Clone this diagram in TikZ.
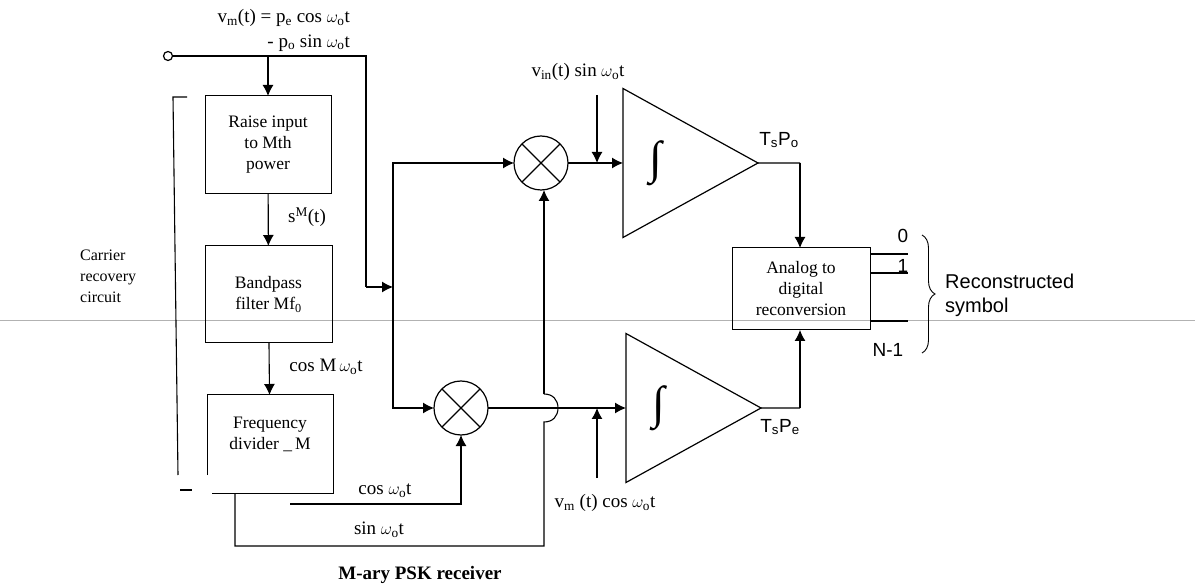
\documentclass[tikz,border=0pt]{standalone}
\usepackage{amsmath}
\usepackage{fontspec}
\setmainfont{Liberation Serif}
\setsansfont{Liberation Sans}
\usetikzlibrary{arrows.meta,positioning,shapes.geometric,calc,decorations.pathreplacing}
\tikzset{
    blockbox/.style={rectangle,draw=black,line width=1pt,inner sep=0pt,outer sep=0pt,align=center},
    mixer/.style={circle,draw=black,line width=1.2pt,minimum size=54pt,inner sep=0pt,outer sep=0pt},
    integrator/.style={isosceles triangle,isosceles triangle stretches,draw=black,line width=1.2pt,minimum width=149pt,minimum height=135pt,inner sep=0pt,outer sep=0pt,anchor=west,font=\fontsize{46}{48}\selectfont},
    sigtext/.style={font=\fontsize{19}{25}\selectfont,inner sep=0pt,align=center},
    sanstext/.style={font=\sffamily\fontsize{19}{24}\selectfont,inner sep=0pt,align=left},
    wire/.style={line width=1.1pt},
    arrow/.style={-{Latex[length=11pt,width=11pt]},line width=1.1pt}
}
\begin{document}
\begin{tikzpicture}[x=1pt,y=-1pt,font=\fontsize{17.5}{21}\selectfont]
  \useasboundingbox (0,0) rectangle (1195,585);
  % Scan line across the page
  \coordinate (scanl) at (0,320);
  \coordinate (scanr) at (1195,320);
  \draw[gray!60,line width=0.8pt] (scanl) -- (scanr);

  % Carrier recovery blocks
  \node[blockbox,minimum width=126pt,minimum height=98pt] at (268,145) (raise) {Raise input\\to Mth\\power};
  \node[blockbox,minimum width=127pt,minimum height=97pt] at (268.5,294.5) (bandpass) {Bandpass\\filter Mf\textsubscript{0}};
  \node[blockbox,draw=none,minimum width=126pt,minimum height=98pt] at (270,444) (divider) {Frequency\\divider \_\,M\\\mbox{}};

  % Mixers, integrators and converter
  \node[mixer] at (541,163) (mixup) {};
  \node[mixer] at (461,408) (mixlow) {};
  \node[integrator] at (623,163) (intup) {∫};
  \node[integrator] at (626,408) (intlow) {∫};
  \node[blockbox,minimum width=138pt,minimum height=82pt] at (801,289) (adc) {Analog to\\digital\\reconversion};
  \foreach \m in {mixup,mixlow} {
    \draw[line width=1.1pt] (\m.45) -- (\m.225);
    \draw[line width=1.1pt] (\m.135) -- (\m.315);
  }

  % Free ends and corners
  \node[circle,draw=black,line width=1.2pt,minimum size=9pt,inner sep=0pt] at (168,56) (input) {};
  \coordinate (bend) at (366,287);
  \coordinate (fork) at (393,287);
  \coordinate (cosstart) at (290,504);
  \coordinate (sinstart) at (235,494);
  \coordinate (sincorner) at (235,546);
  \coordinate (jumplow) at (544,422);
  \coordinate (jumptop) at (544,394);
  \coordinate (outup) at (800,163);
  \coordinate (outlow) at (800,408);
  \coordinate (sinin) at (597,95);
  \coordinate (cosin) at (597,478);
  \coordinate (out0) at (908,254);
  \coordinate (out1) at (908,273);
  \coordinate (outn) at (908,321);
  \coordinate (brtop) at (922,235);
  \coordinate (brlow) at (922,353);
  \coordinate (brkstart) at (187,97);
  \coordinate (brkcorner) at (173,97);
  \coordinate (brkend) at (178,475);
  \coordinate (dashl) at (180,490);
  \coordinate (dashr) at (192,490);

  % Divider outline, open at its lower left corner
  \draw[line width=1pt] ($(divider.south west)+(0,-18)$) -- (divider.north west) -- (divider.north east) -- (divider.south east) -- ($(divider.south west)+(5,0)$);
  % Broken carrier recovery bracket
  \draw[wire] (brkstart) -- (brkcorner) -- (brkend);
  \draw[wire] (dashl) -- (dashr);

  % Signal path
  \draw[wire] (input) -| (bend);
  \draw[arrow] (bend) -- (fork);
  \draw[arrow] (input -| raise) -- (raise);
  \draw[arrow] (raise) -- (bandpass);
  \draw[arrow] (bandpass) -- (divider);
  \draw[arrow] (fork) |- (mixup);
  \draw[arrow] (fork) |- (mixlow);
  \draw[arrow] (cosstart) -| (mixlow);
  \draw[wire] (sinstart) -- (sincorner) -| (jumplow) .. controls (553,422) and (558,416) .. (558,408) .. controls (558,400) and (553,394) .. (jumptop);
  \draw[arrow] (jumptop) -- (jumptop |- mixup.south);
  \draw[arrow] (mixup) -- (intup.west);
  \draw[arrow] (mixlow) -- (intlow.west);
  \draw[arrow] (sinin) -- (sinin |- mixup);
  \draw[arrow] (cosin) -- (cosin |- mixlow);
  \draw[wire] (intup.east) -- (outup);
  \draw[wire] (intlow.east) -- (outlow);
  \draw[arrow] (outup) -- (outup |- adc.north);
  \draw[arrow] (outlow) -- (outlow |- adc.south);
  \draw[wire] (out0 -| adc.east) -- (out0);
  \draw[wire] (out1 -| adc.east) -- (out1);
  \draw[wire] (outn -| adc.east) -- (outn);
  \draw[line width=0.9pt,decorate,decoration={brace,amplitude=13pt}] (brtop) -- (brlow);

  % Signal labels
  \node[sigtext,anchor=east] at (350,18) (vmlabel) {v\textsubscript{m}(t) = p\textsubscript{e} cos $\omega_{\mathrm{o}}$t};
  \node[sigtext,anchor=east] at (350,43) (polabel) {- p\textsubscript{o} sin $\omega_{\mathrm{o}}$t};
  \node[sigtext] at (307,217) (smlabel) {s\textsuperscript{M}(t)};
  \node[sigtext] at (326,367) (cosmlabel) {cos M\,$\omega_{\mathrm{o}}$t};
  \node[sigtext] at (385,491) (coslabel) {cos $\omega_{\mathrm{o}}$t};
  \node[sigtext] at (379,530) (sinlabel) {sin $\omega_{\mathrm{o}}$t};
  \node[sigtext] at (578,72) (vinlabel) {v\textsubscript{in}(t) sin $\omega_{\mathrm{o}}$t};
  \node[sigtext] at (605,503) (vmcoslabel) {v\textsubscript{m} (t) cos $\omega_{\mathrm{o}}$t};
  \node[sigtext,align=left,anchor=west,font=\fontsize{16}{21}\selectfont] at (80,276) (carrier) {Carrier\\recovery\\circuit};
  \node[sigtext,font=\bfseries\fontsize{19}{22}\selectfont] at (420,575) (title) {M-ary PSK receiver};

  % Outputs
  \node[sanstext] at (779,140) (tspo) {T\textsubscript{s}P\textsubscript{o}};
  \node[sanstext] at (780,427) (tspe) {T\textsubscript{s}P\textsubscript{e}};
  \node[sanstext] at (903,236) (zero) {0};
  \node[sanstext] at (903,266) (one) {1};
  \node[sanstext] at (888,350) (nminus) {N-1};
  \node[sanstext,anchor=west,font=\sffamily\fontsize{20}{24}\selectfont] at (945,295) (recon) {Reconstructed\\symbol};
\end{tikzpicture}
\end{document}
